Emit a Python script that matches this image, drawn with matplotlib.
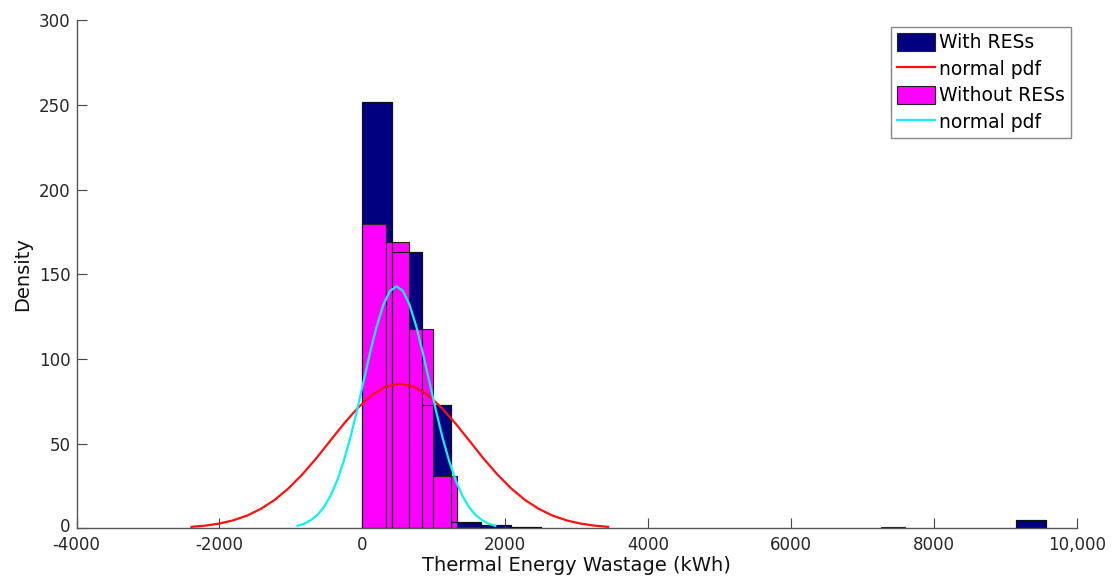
import numpy as np
import matplotlib
matplotlib.use("Agg")
import matplotlib.pyplot as plt
from matplotlib.patches import Patch
from matplotlib.lines import Line2D
from matplotlib.transforms import ScaledTranslation

# histogram bins (left edge, count)
with_left = [0, 416, 832, 1248, 1664, 2080, 9152]
with_count = [252, 163, 73, 4, 2, 1, 5]
with_binwidth = 416

without_left = [0, 330, 660, 990, 1320, 7260]
without_count = [180, 169, 118, 31, 1, 1]
without_binwidth = 330

# fitted normal pdf curves
red_x = [-2391, -2197, -2002, -1808, -1613, -1419, -1225, -1030, -836, -641,
         -447, -253, -58, 136, 331, 525, 719, 914, 1108, 1303,
         1497, 1691, 1886, 2080, 2275, 2469, 2663, 2858, 3052, 3247, 3441]
red_y = [0.95, 1.7, 2.9, 4.8, 7.6, 11.6, 16.9, 23.8, 32.1, 41.6,
         51.9, 62.1, 71.4, 78.9, 83.8, 85.5, 83.8, 78.9, 71.4, 62.1,
         51.9, 41.6, 32.1, 23.8, 16.9, 11.6, 7.6, 4.8, 2.9, 1.7, 0.95]

cyan_x = [-905, -813, -721, -628, -536, -444, -352, -260, -167, -75,
          17, 109, 201, 294, 386, 478, 570, 662, 755, 847,
          939, 1031, 1123, 1216, 1308, 1400, 1492, 1584, 1677, 1769, 1861]
cyan_y = [1.6, 2.8, 4.9, 8.0, 12.7, 19.4, 28.3, 39.8, 53.7, 69.6,
          86.7, 103.8, 119.4, 132.0, 140.2, 143.0, 140.2, 132.0, 119.4, 103.8,
          86.7, 69.6, 53.7, 39.8, 28.3, 19.4, 12.7, 8.0, 4.9, 2.8, 1.6]

xticks = [-4000, -2000, 0, 2000, 4000, 6000, 8000, 10000]
xtick_labels = ["-4000", "-2000", "0", "2000", "4000", "6000", "8000", "10,000"]
yticks = [0, 50, 100, 150, 200, 250, 300]

NAVY = "#000080"
MAGENTA = "#ff00ff"
RED = "#ff1010"
CYAN = "#10f0f0"

fig = plt.figure(figsize=(11.12, 5.81), dpi=100)
ax = fig.add_axes([0.0688, 0.0904, 0.8995, 0.8744])

# navy faces, magenta on top, navy outlines over everything
ax.bar(with_left, with_count, width=with_binwidth, align="edge",
       color=NAVY, edgecolor="#111111", linewidth=0.8, zorder=1)
ax.bar(without_left, without_count, width=without_binwidth, align="edge",
       color=MAGENTA, edgecolor="#222222", linewidth=0.8, zorder=2)
ax.bar(with_left, with_count, width=with_binwidth, align="edge",
       facecolor="none", edgecolor="#111111", linewidth=0.8, zorder=3)

ax.plot(red_x, red_y, color=RED, linewidth=1.6, zorder=4)
ax.plot(cyan_x, cyan_y, color=CYAN, linewidth=1.6, zorder=5)

ax.set_xlim(-4000, 10000)
ax.set_ylim(0, 300)
ax.set_xticks(xticks)
ax.set_xticklabels(xtick_labels)
ax.set_yticks(yticks)
ax.tick_params(direction="in", length=7, width=0.8, color="#444444",
               labelsize=12, labelcolor="#262626")
ax.tick_params(axis="x", pad=5.5)
ax.tick_params(axis="y", pad=4.5)
for side in ("top", "right"):
    ax.spines[side].set_visible(False)
for side in ("left", "bottom"):
    ax.spines[side].set_color("#555555")
    ax.spines[side].set_linewidth(1.0)

ax.set_xlabel("Thermal Energy Wastage (kWh)", fontsize=14, color="#111111", labelpad=1)
ax.set_ylabel("Density", fontsize=14, color="#111111", labelpad=5)

handles = [
    Patch(facecolor=NAVY, edgecolor="#222222", linewidth=0.8),
    Line2D([], [], color=RED, linewidth=1.6),
    Patch(facecolor=MAGENTA, edgecolor="#222222", linewidth=0.8),
    Line2D([], [], color=CYAN, linewidth=1.6),
]
labels = ["With RESs", "normal pdf", "Without RESs", "normal pdf"]
leg = ax.legend(handles, labels, loc="upper right",
                bbox_to_anchor=(1070.7 / 1112, 1 - 26.7 / 581),
                bbox_transform=fig.transFigure, borderaxespad=0,
                fontsize=13.5, fancybox=False, framealpha=1,
                edgecolor="#888888", handlelength=2.05, handleheight=1.1,
                handletextpad=0.2, labelspacing=0.38, borderpad=0.32)
leg.get_frame().set_linewidth(1.0)

# nudge the y "0" label up a little so it clears the "-4000" label
fig.canvas.draw()
zero_lbl = ax.yaxis.get_major_ticks()[0].label1
zero_lbl.set_transform(zero_lbl.get_transform()
                       + ScaledTranslation(0, 2.5 / 72, fig.dpi_scale_trans))

fig.savefig("out.png", dpi=100)
